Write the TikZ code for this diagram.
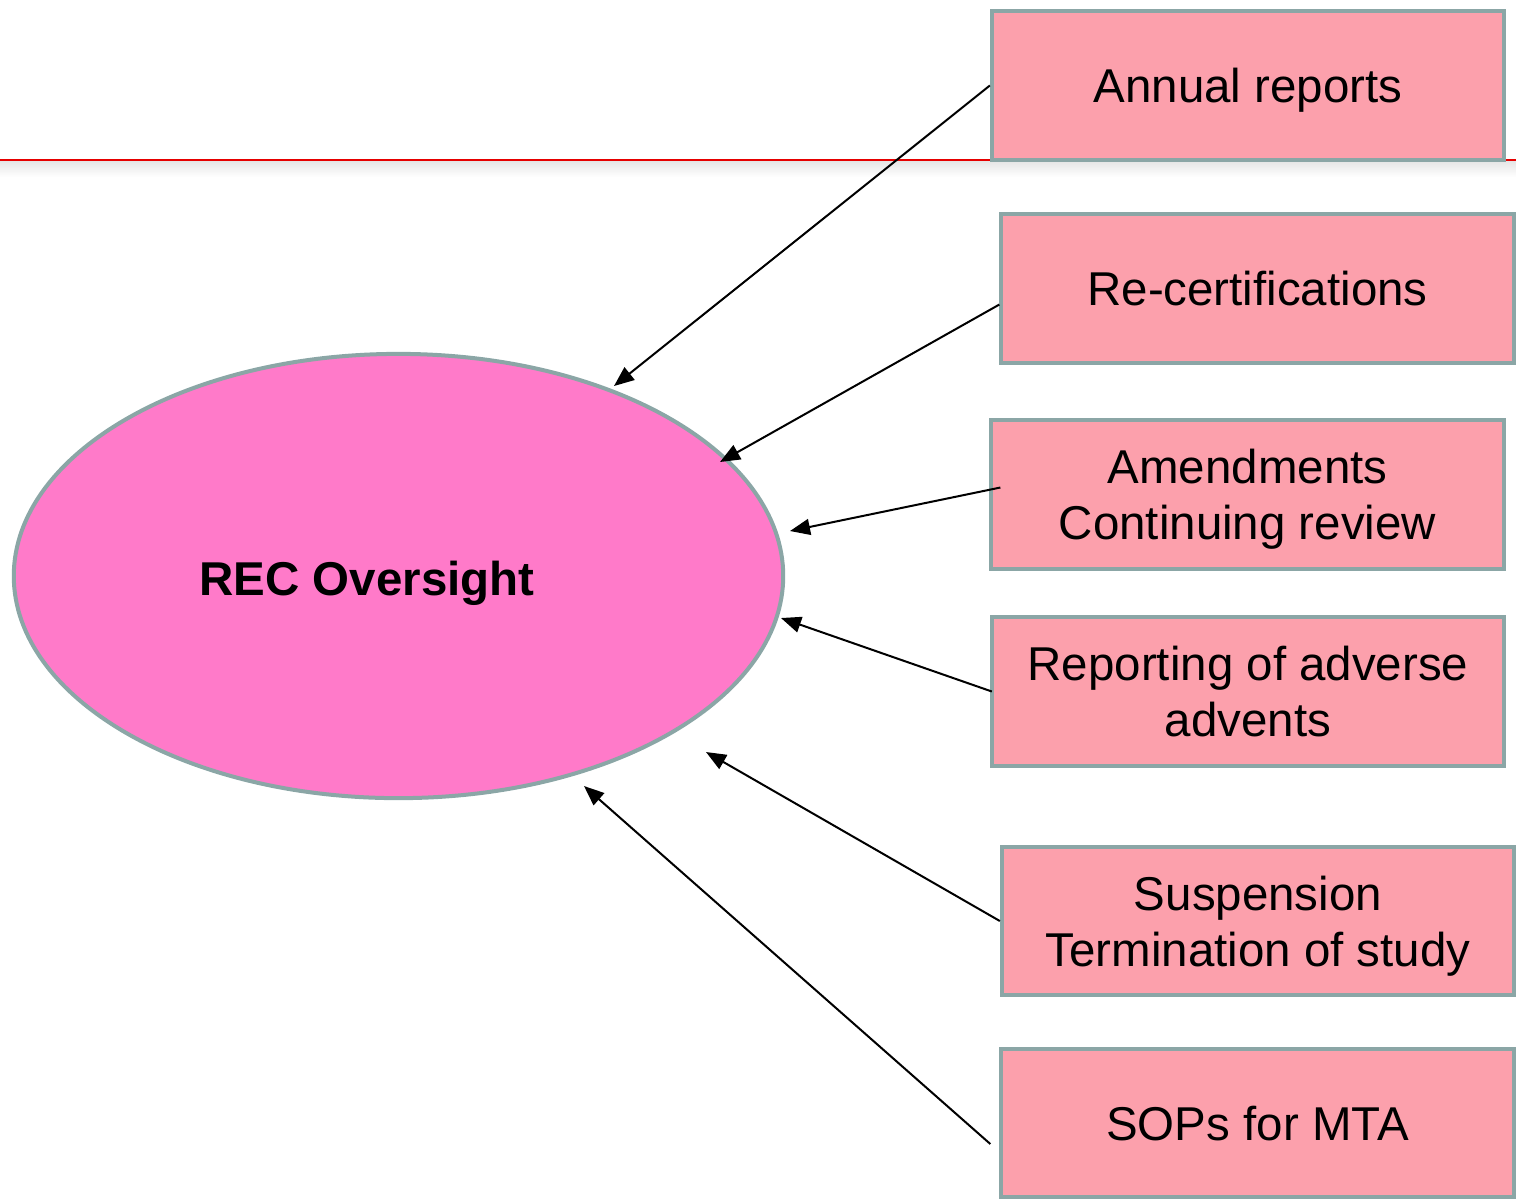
\documentclass[tikz,border=0pt]{standalone}
\usepackage{fontspec}
\setmainfont{Liberation Sans}
\usetikzlibrary{arrows.meta,shapes.geometric}
\definecolor{boxpink}{RGB}{252,160,172}
\definecolor{ovalpink}{RGB}{255,122,201}
\definecolor{rim}{RGB}{139,166,166}
\definecolor{rulered}{RGB}{230,0,0}
\tikzset{
  item/.style={draw=rim, line width=0.04cm, fill=boxpink, rectangle, minimum width=5.12cm, minimum height=1.48cm, inner sep=0pt, align=center, text depth=0pt, font=\fontsize{13.5}{16}\selectfont},
  oval/.style={draw=rim, line width=0.04cm, fill=ovalpink, ellipse, minimum width=7.69cm, minimum height=4.44cm, inner sep=0pt},
  feed/.style={->, line width=0.02cm}
}
\begin{document}
\begin{tikzpicture}[x=0.01cm, y=-0.01cm, >={Triangle[length=0.2cm,width=0.16cm]}]
\useasboundingbox (0,0) rectangle (1516,1199);
% title rule with its shadow
\shade[top color=black!10, bottom color=white] (0,161) rectangle (1516,177);
\draw[rulered, line width=0.02cm] (0,160) -- (1516,160);

\node(REC)[oval] at (398.5,576) {};
\node(RECtext)[text depth=0pt, font=\fontsize{13.5}{16}\selectfont\bfseries] at (367,578) {REC Oversight};

\node(Annual)[item] at (1248,85.5) {Annual reports};
\node(Recert)[item] at (1257.5,288.5) {Re-certifications};
\node(Amend)[item] at (1247.5,494.5) {Amendments\\Continuing review};
\node(Adverse)[item] at (1248,691.5) {Reporting of adverse\\advents};
\node(Susp)[item] at (1258,921) {Suspension\\Termination of study};
\node(SOP)[item] at (1257.5,1123) {SOPs for MTA};

\coordinate(T1) at (614,386);
\coordinate(T2) at (720,462);
\coordinate(T3) at (790,531);
\coordinate(T4) at (781,618);
\coordinate(T5) at (706,752);
\coordinate(T6) at (584,786);

\draw[feed] (Annual.west) -- (T1);
\draw[feed] ([yshift=-0.16cm]Recert.west) -- (T2);
\draw[feed] ([shift={(11,-7)}]Amend.west) -- (T3);
\draw[feed] ([xshift=0.02cm]Adverse.west) -- (T4);
\draw[feed] (Susp.west) -- (T5);
\draw[feed] ([shift={(-9,21)}]SOP.west) -- (T6);
\end{tikzpicture}
\end{document}
